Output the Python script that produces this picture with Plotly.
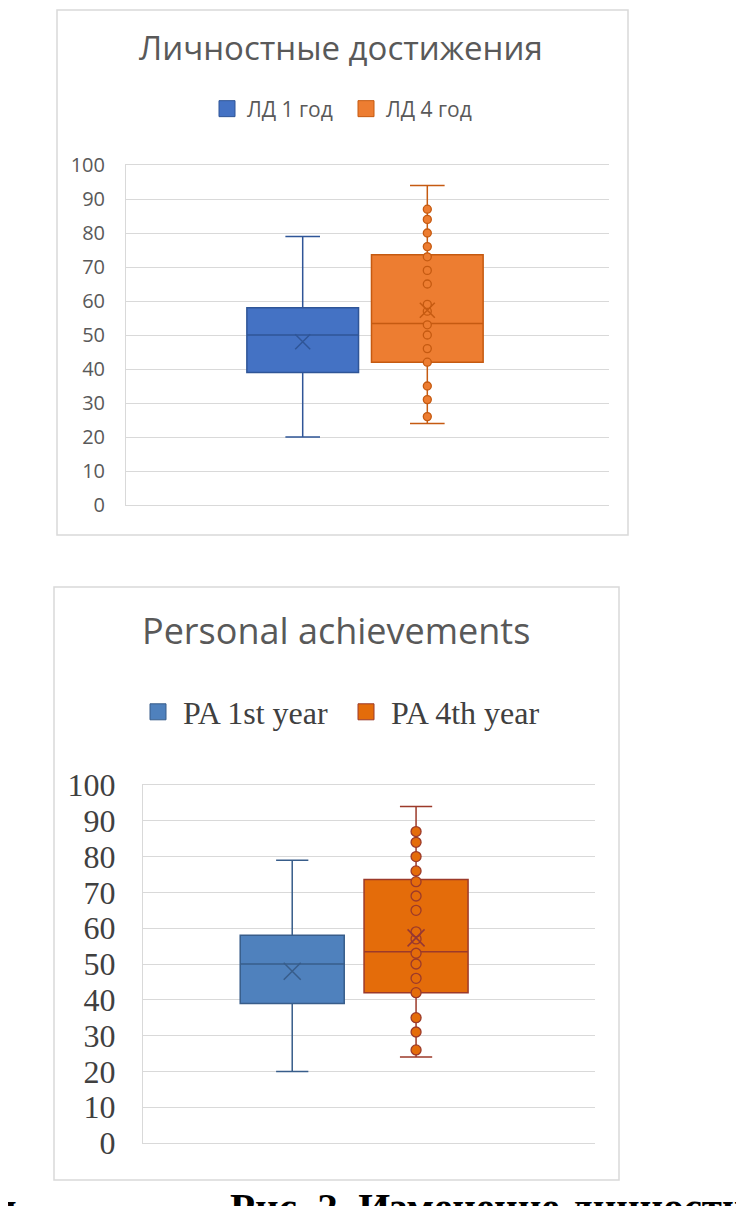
import plotly.graph_objects as go

# values; both charts show the same data (RU / EN version)
names_ru = ['ЛД 1 год', 'ЛД 4 год']
names_en = ['PA 1st year', 'PA 4th year']
min_vals = [20, 24]
q1_vals = [39, 42]
median_vals = [50, 53.4]
q3_vals = [58, 73.6]
max_vals = [79, 94]
mean_vals = [48, 57.3]
# inner points of the 4th year series (1st year shows none)
points_4th = [26, 31, 35, 42, 46, 50, 53, 57, 59, 65, 69, 73, 76, 80, 84, 87]
tick_vals = list(range(0, 101, 10))

W, H = 744, 1206
OFF = 8  # the page body adds 8px around the figure


def px_x(p):
    return (p - OFF) / W


def px_y(p):
    return 1 - (p - OFF) / H


def AddBoxChart(fig, n, names, fills, lines, mean_cols, msize, legend, sq):
    xa, ya = ('x', 'y') if n == 1 else ('x%d' % n, 'y%d' % n)
    for i in range(2):
        fig.add_trace(go.Box(x=[names[i]], q1=[q1_vals[i]], median=[median_vals[i]],
                             q3=[q3_vals[i]], lowerfence=[min_vals[i]],
                             upperfence=[max_vals[i]], boxpoints=False,
                             fillcolor=fills[i], line=dict(color=lines[i], width=1.5),
                             whiskerwidth=0.31, width=box_w[n], showlegend=False,
                             xaxis=xa, yaxis=ya, hoverinfo='skip'))
    # points of the 4th year series, drawn on the whisker
    fig.add_trace(go.Scatter(x=[names[1]] * len(points_4th), y=points_4th, mode='markers',
                             marker=dict(symbol='circle', size=msize, color=fills[1],
                                         line=dict(color=lines[1], width=1.3)),
                             showlegend=False, xaxis=xa, yaxis=ya))
    # mean shown as an X like excel does
    fig.add_trace(go.Scatter(x=names, y=mean_vals, mode='markers',
                             marker=dict(symbol='x-thin', size=msize + 7,
                                         line=dict(color=mean_cols, width=1.5)),
                             showlegend=False, xaxis=xa, yaxis=ya))
    # legend entries
    for i in range(2):
        fig.add_trace(go.Scatter(x=[None], y=[None], mode='markers', name=names[i],
                                 marker=dict(symbol='square', size=sq, color=fills[i],
                                             line=dict(color=lines[i], width=1)),
                                 legend=legend, xaxis=xa, yaxis=ya))


box_w = {1: 0.896, 2: 0.84}

fig = go.Figure()
AddBoxChart(fig, 1, names_ru, ['#4472C4', '#ED7D31'], ['#2F5597', '#C55A11'],
            ['#2F5597', '#C55A11'], 8, 'legend', 16)
AddBoxChart(fig, 2, names_en, ['#4F81BD', '#E46C0A'], ['#385D8A', '#9C3A2A'],
            ['#385D8A', '#953735'], 10, 'legend2', 16)

grid = '#D9D9D9'
fig.update_layout(
    width=W, height=H,
    margin=dict(l=0, r=0, t=0, b=0, autoexpand=False),
    paper_bgcolor='white', plot_bgcolor='white',
    xaxis=dict(domain=[px_x(126), px_x(609)], range=[-1.418, 2.458], showticklabels=False,
               showgrid=False, zeroline=False, showline=True, mirror=True, linecolor=grid,
               anchor='y', automargin=False),
    yaxis=dict(domain=[px_y(505), px_y(165)], range=[0, 100], tickvals=tick_vals,
               showgrid=True, gridcolor=grid, gridwidth=1.2, zeroline=False,
               showline=True, linecolor=grid, ticks='', ticklabelstandoff=16,
               tickfont=dict(family='Open Sans', size=20, color='#595959'), anchor='x',
               automargin=False),
    xaxis2=dict(domain=[px_x(143), px_x(595)], range=[-1.205, 2.445], showticklabels=False,
                showgrid=False, zeroline=False, showline=True, mirror=True, linecolor=grid,
                anchor='y2', automargin=False),
    yaxis2=dict(domain=[px_y(1143), px_y(785)], range=[0, 100], tickvals=tick_vals,
                showgrid=True, gridcolor=grid, gridwidth=1.2, zeroline=False,
                showline=True, linecolor=grid, ticks='', ticklabelstandoff=20,
                tickfont=dict(family='Liberation Serif', size=32, color='#404040'),
                anchor='x2', automargin=False),
    legend=dict(orientation='h', x=px_x(346), y=px_y(109), xanchor='center', yanchor='middle',
                font=dict(family='Open Sans', size=21, color='#595959'),
                entrywidth=94, bgcolor='rgba(0,0,0,0)'),
    legend2=dict(orientation='h', x=px_x(341), y=px_y(712), xanchor='center', yanchor='middle',
                 font=dict(family='Liberation Serif', size=32, color='#404040'),
                 itemwidth=40, entrywidth=153, bgcolor='rgba(0,0,0,0)'),
    showlegend=True,
)

# chart frames
fig.add_shape(type='rect', xref='paper', yref='paper', x0=px_x(57), x1=px_x(628),
              y0=px_y(535), y1=px_y(10), line=dict(color=grid, width=1.5))
fig.add_shape(type='rect', xref='paper', yref='paper', x0=px_x(54), x1=px_x(619),
              y0=px_y(1180), y1=px_y(587), line=dict(color=grid, width=1.5))

# titles
fig.add_annotation(text='Личностные достижения', xref='paper', yref='paper',
                   x=px_x(341), y=px_y(47), showarrow=False, xanchor='center', yanchor='middle',
                   font=dict(family='Open Sans', size=33, color='#595959'))
fig.add_annotation(text='Personal achievements', xref='paper', yref='paper',
                   x=px_x(336), y=px_y(630), showarrow=False, xanchor='center', yanchor='middle',
                   font=dict(family='Open Sans', size=36, color='#595959'))
# figure caption below, cut off by the page edge as in the source
fig.add_annotation(text='<b>Рис. 2. Изменение личностных достижений</b>', xref='paper',
                   yref='paper', x=px_x(228), y=px_y(1182), showarrow=False,
                   xanchor='left', yanchor='top',
                   font=dict(family='Liberation Serif', size=41, color='black'))
# end of the preceding text line, also cut off
fig.add_annotation(text='<b>и</b>', xref='paper', yref='paper', x=px_x(19), y=px_y(1182),
                   showarrow=False, xanchor='right', yanchor='top',
                   font=dict(family='Liberation Serif', size=41, color='black'))

fig.write_html("out.html")
